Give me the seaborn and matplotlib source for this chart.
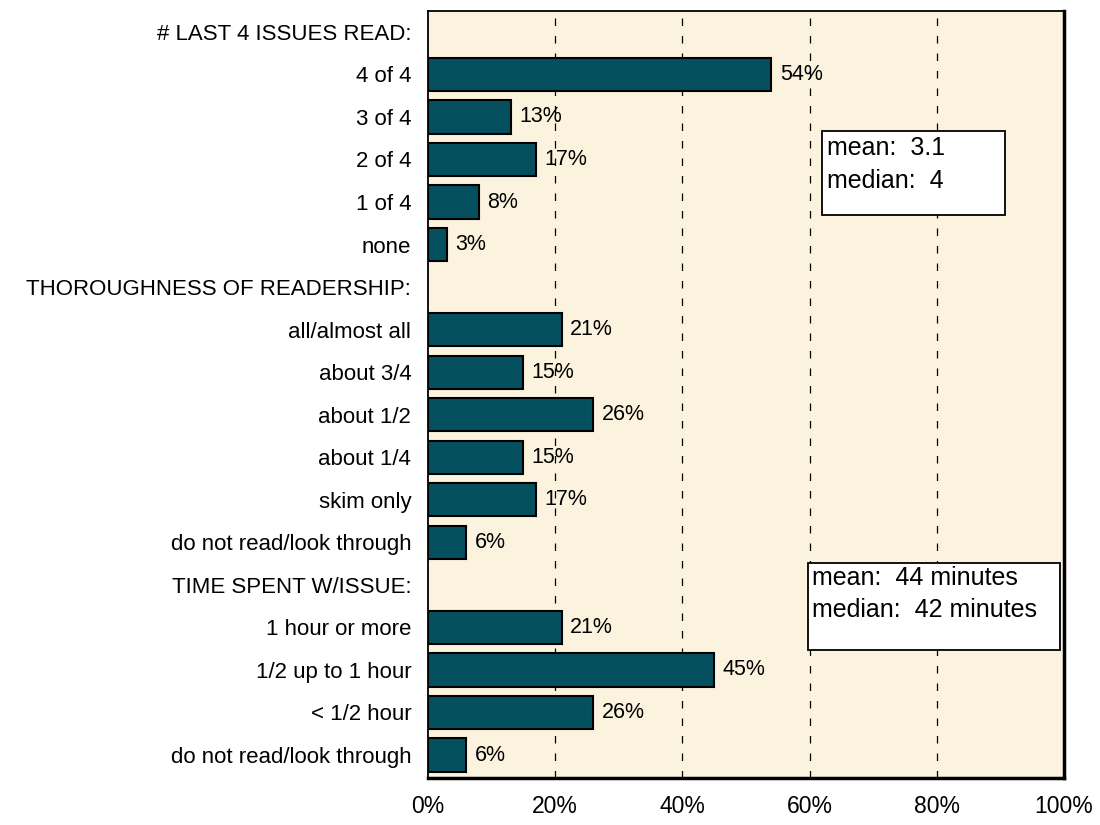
import matplotlib

matplotlib.use("Agg")
import matplotlib.pyplot as plt
import pandas as pd
import seaborn as sns
from matplotlib import font_manager
from matplotlib.patches import Rectangle

# Rows top to bottom; section headers carry no value
labels = [
    "# LAST 4 ISSUES READ:",
    "4 of 4",
    "3 of 4",
    "2 of 4",
    "1 of 4",
    "none",
    "THOROUGHNESS OF READERSHIP:",
    "all/almost all",
    "about 3/4",
    "about 1/2",
    "about 1/4",
    "skim only",
    "do not read/look through",
    "TIME SPENT W/ISSUE:",
    "1 hour or more",
    "1/2 up to 1 hour",
    "< 1/2 hour",
    "do not read/look through",
]
header_rows = [0, 6, 13]
pct = [54, 13, 17, 8, 3, 21, 15, 26, 15, 17, 6, 21, 45, 26, 6]

box_issues = ["mean:  3.1", "median:  4"]
box_time = ["mean:  44 minutes", "median:  42 minutes"]

BAR_COLOR = "#05505F"
BG_COLOR = "#FBF3DE"

sns.set_style("white")
plt.rcParams["font.family"] = ["Liberation Sans", "DejaVu Sans"]
plt.rcParams["text.color"] = "black"
plt.rcParams["xtick.color"] = "black"
plt.rcParams["ytick.color"] = "black"

# unique keys so the two "do not read/look through" rows stay apart
keys = [f"r{i}" for i in range(len(labels))]
data_keys = [k for i, k in enumerate(keys) if i not in header_rows]
df = pd.DataFrame({"key": data_keys, "pct": pct})

fig = plt.figure(figsize=(11, 8.25), dpi=100)
ax = fig.add_axes([428 / 1100, 1 - 778 / 825, 636 / 1100, 767 / 825])
ax.set_facecolor(BG_COLOR)

sns.barplot(
    data=df,
    x="pct",
    y="key",
    order=keys,
    orient="h",
    color=BAR_COLOR,
    saturation=1,
    width=0.78,
    edgecolor="black",
    linewidth=1.5,
    errorbar=None,
    ax=ax,
    zorder=3,
)

for cont in ax.containers:
    ax.bar_label(cont, fmt="{:.0f}%", padding=6, fontsize=15.5, zorder=4)

ax.set_xlim(0, 100)
ax.set_ylim(len(labels) - 1 + 0.54, -0.49)

narrow = "Liberation Sans Narrow"
have_narrow = any(f.name == narrow for f in font_manager.fontManager.ttflist)
ax.set_xticks(range(0, 101, 20))
ax.set_xticklabels(
    [f"{v}%" for v in range(0, 101, 20)],
    fontsize=18 if have_narrow else 16.5,
    family=[narrow, "DejaVu Sans"] if have_narrow else ["Liberation Sans", "DejaVu Sans"],
)
ax.set_yticks(range(len(labels)))
ax.set_yticklabels(labels, fontsize=16)
ax.tick_params(axis="x", length=0, pad=12)
ax.tick_params(axis="y", length=0, pad=12)
ax.set_xlabel("")
ax.set_ylabel("")

for v in range(20, 100, 20):
    ax.axvline(v, color="black", linestyle=(0, (6, 8)), linewidth=0.9, zorder=1)

for side in ["left", "top"]:
    ax.spines[side].set_linewidth(1.3)
for side in ["right", "bottom"]:
    ax.spines[side].set_linewidth(2.5)
for sp in ax.spines.values():
    sp.set_color("black")
    sp.set_visible(True)

# summary boxes
ax.add_patch(Rectangle((0.619, 0.734), 0.288, 0.110, transform=ax.transAxes,
                       facecolor="white", edgecolor="black", linewidth=1.3, zorder=5))
ax.text(0.628, 0.822, box_issues[0], transform=ax.transAxes, fontsize=18, va="center", zorder=6)
ax.text(0.628, 0.779, box_issues[1], transform=ax.transAxes, fontsize=18, va="center", zorder=6)

ax.add_patch(Rectangle((0.597, 0.167), 0.397, 0.113, transform=ax.transAxes,
                       facecolor="white", edgecolor="black", linewidth=1.3, zorder=5))
ax.text(0.604, 0.261, box_time[0], transform=ax.transAxes, fontsize=18, va="center", zorder=6)
ax.text(0.604, 0.219, box_time[1], transform=ax.transAxes, fontsize=18, va="center", zorder=6)

fig.savefig("out.png", dpi=100)
